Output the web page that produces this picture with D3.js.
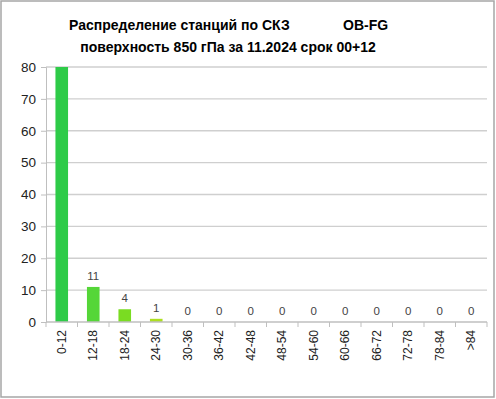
<!DOCTYPE html>
<html>
<head>
<meta charset="utf-8">
<script src="https://cdn.jsdelivr.net/npm/d3@7"></script>
<style>
  body { margin: 0; background: #fff; }
  text { font-family: "Liberation Sans", Arial, sans-serif; }
</style>
</head>
<body>
<div id="chart"></div>
<script>
const categories = ["0-12","12-18","18-24","24-30","30-36","36-42","42-48","48-54","54-60","60-66","66-72","72-78","78-84",">84"];
const counts = [80, 11, 4, 1, 0, 0, 0, 0, 0, 0, 0, 0, 0, 0];
const barColors = ["#2ecb48","#55d638","#7adc22","#addf20","#c0e020","#c0e020","#c0e020","#c0e020","#c0e020","#c0e020","#c0e020","#c0e020","#c0e020","#c0e020"];
const yTicks = [0, 10, 20, 30, 40, 50, 60, 70, 80];

const W = 496, H = 399;
const margin = {top: 67, right: 9, bottom: 77, left: 46};
const width = W - margin.left - margin.right,
      height = H - margin.top - margin.bottom;

const svg = d3.select("#chart").append("svg")
    .attr("width", W).attr("height", H);

// outer frame
svg.append("rect")
    .attr("x", 1).attr("y", 1).attr("width", W - 3).attr("height", H - 3)
    .attr("fill", "#fff").attr("stroke", "#a6a6a6").attr("stroke-width", 1.5);

// titles
svg.append("text").attr("x", 69).attr("y", 30)
    .attr("font-size", 14).attr("font-weight", "bold").attr("fill", "#000")
    .text("Распределение станций по СКЗ");
svg.append("text").attr("x", 343).attr("y", 30)
    .attr("font-size", 14).attr("font-weight", "bold").attr("fill", "#000")
    .text("OB-FG");
svg.append("text").attr("x", 228).attr("y", 52).attr("text-anchor", "middle")
    .attr("font-size", 14).attr("font-weight", "bold").attr("fill", "#000")
    .text("поверхность  850 гПа за 11.2024 срок 00+12");

const g = svg.append("g").attr("transform", `translate(${margin.left},${margin.top})`);

const x = d3.scaleBand().domain(categories).range([0, width]).paddingInner(0.6).paddingOuter(0.3);
const y = d3.scaleLinear().domain([0, 80]).range([height, 0]);

// gridlines
g.append("g").selectAll("line").data(yTicks.slice(1)).join("line")
    .attr("x1", 0).attr("x2", width)
    .attr("y1", d => y(d)).attr("y2", d => y(d))
    .attr("stroke", "#cfcfcf").attr("stroke-width", 1.3);

// y axis
const yAxis = g.append("g").call(d3.axisLeft(y).tickValues(yTicks).tickSize(5).tickPadding(5));
yAxis.select(".domain").attr("stroke", "#bfbfbf");
yAxis.selectAll(".tick line").attr("stroke", "#bfbfbf");
yAxis.selectAll("text").attr("font-size", 13.5).attr("fill", "#222");

// bars
g.append("g").selectAll("rect").data(counts).join("rect")
    .attr("x", (d, i) => x(categories[i]))
    .attr("y", d => y(d))
    .attr("width", x.bandwidth())
    .attr("height", d => height - y(d))
    .attr("fill", (d, i) => barColors[i]);

// x axis with category boundary ticks
const step = width / categories.length;
const xa = g.append("g").attr("transform", `translate(0,${height})`);
xa.append("line").attr("x1", 0).attr("x2", width).attr("stroke", "#bfbfbf").attr("stroke-width", 1.3);
xa.selectAll("line.tk").data(d3.range(categories.length + 1)).join("line").attr("class", "tk")
    .attr("x1", i => i * step).attr("x2", i => i * step)
    .attr("y1", 0).attr("y2", 5).attr("stroke", "#bfbfbf");
xa.selectAll("text").data(categories).join("text")
    .attr("transform", d => `translate(${x(d) + x.bandwidth() / 2 + 4},8) rotate(-90)`)
    .attr("text-anchor", "end").attr("font-size", 12).attr("fill", "#222")
    .text(d => d);

// value labels (first bar has none)
g.append("g").selectAll("text").data(counts.map((v, i) => ({v, i})).filter(d => d.i > 0)).join("text")
    .attr("x", d => x(categories[d.i]) + x.bandwidth() / 2)
    .attr("y", d => y(d.v) - 7)
    .attr("text-anchor", "middle").attr("font-size", 11.5).attr("fill", "#444")
    .text(d => d.v);
</script>
</body>
</html>
